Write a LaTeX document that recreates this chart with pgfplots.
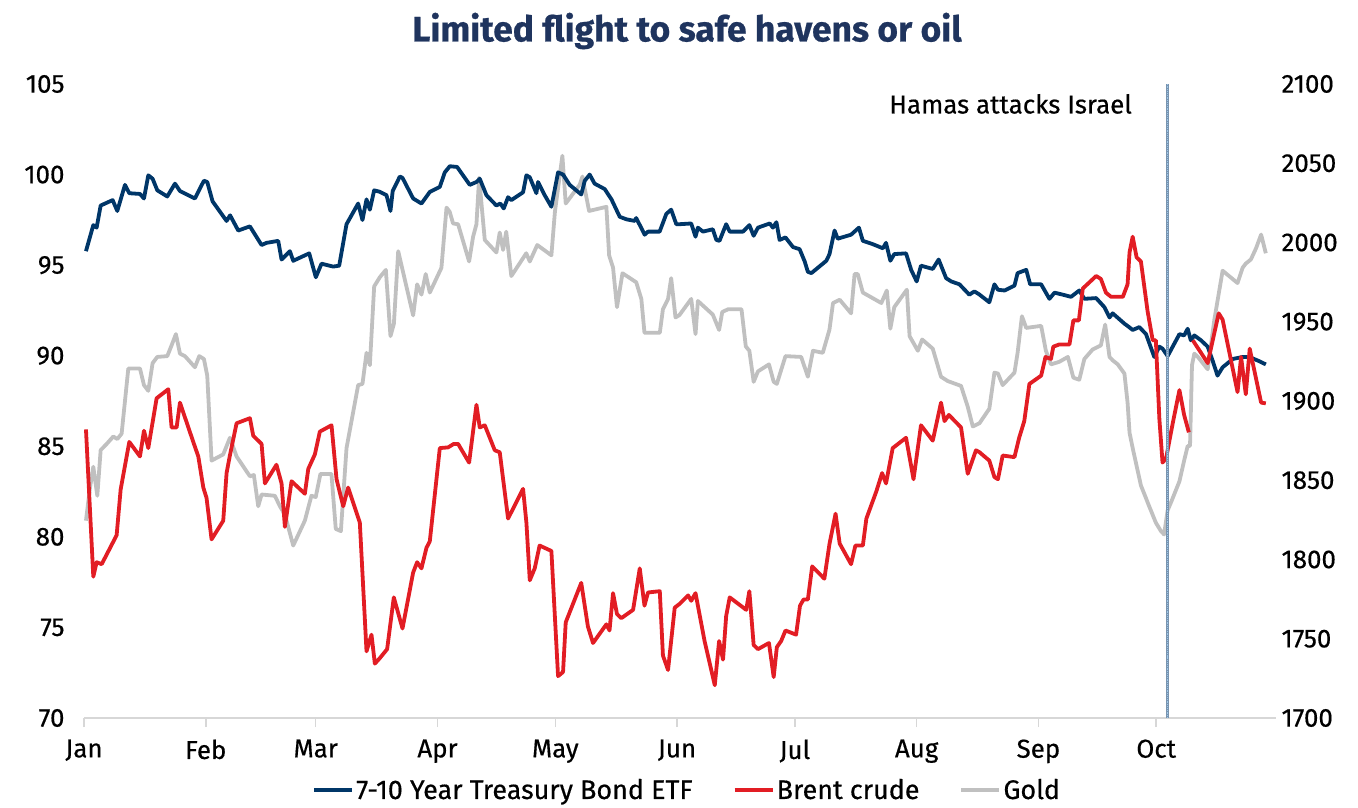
\documentclass[border=0pt]{standalone}
\usepackage{pgfplots}
\pgfplotsset{compat=1.18}
\usepackage{pgfplotstable}
\usepackage{fontspec}
\setmainfont{Fira Sans}[FakeBold=0.6]
\newfontfamily\medfont{Fira Sans}[FakeBold=0.5]
\definecolor{navy}{RGB}{0,54,104}
\definecolor{brent}{RGB}{226,29,36}
\definecolor{goldc}{RGB}{192,192,192}
\definecolor{titlec}{RGB}{31,52,94}
\definecolor{vline}{RGB}{120,148,176}
\definecolor{vdot}{RGB}{160,200,232}
\definecolor{axgray}{RGB}{215,215,215}

\pgfplotstableread{
day val
0.5 95.77
2.37 97.21
3.22 97.07
4.24 98.29
7.29 98.59
8.48 97.99
10.43 99.43
11.53 98.97
14.25 98.93
15.27 98.68
16.37 99.96
17.47 99.77
18.66 99.13
21.2 98.79
23.16 99.5
24.43 99.09
28.24 98.68
30.53 99.66
31.38 99.59
32.74 98.52
36.3 97.44
37.2 97.75
39.27 96.91
42.24 97.14
45.21 96.11
46.48 96.23
49.45 96.34
50.3 95.31
52.42 95.77
53.27 95.24
57.34 95.65
59.03 94.33
60.47 95.08
63.44 94.92
64.97 94.97
66.84 97.26
69.8 98.4
70.9 97.49
71.93 98.63
72.78 98.06
73.88 99.13
75.3 99.05
77.02 98.86
78.03 97.99
78.6 99.09
80.41 99.89
81.09 99.82
83.8 98.68
85.92 98.4
88.04 99.04
90.59 99.32
91.86 100.12
93.13 100.46
95.0 100.42
98.22 99.43
99.92 99.59
100.76 99.77
102.46 98.86
105.0 98.29
106.0 98.4
106.87 98.13
107.97 98.75
108.8 98.59
111.79 99.02
112.64 99.96
113.5 99.85
115.18 98.97
115.6 99.59
117.3 98.86
119.0 98.22
120.7 100.12
121.97 100.0
123.66 99.43
126.6 98.9
127.5 99.66
128.75 100.0
130.0 99.5
132.57 99.2
134.3 98.63
136.4 97.67
138.1 97.53
140.2 97.44
140.6 97.6
142.75 96.68
143.6 96.85
146.56 96.85
148.26 97.83
149.5 98.06
150.8 97.26
151.7 97.26
154.6 97.3
155.7 96.57
156.3 97.07
157.6 96.85
160.1 96.98
161.0 96.39
161.8 96.34
163.5 97.26
164.4 96.85
167.8 96.85
169.4 97.21
170.5 96.62
171.6 97.07
174.6 97.3
175.4 97.07
176.3 97.37
177.1 96.39
178.6 96.53
180.5 96.0
182.2 95.88
183.5 95.2
184.3 94.63
185.2 94.56
189.0 95.24
189.8 95.6
191.1 96.91
191.9 96.46
195.3 96.68
197.3 97.07
198.3 96.34
200.8 96.16
203.4 95.93
204.2 96.23
205.3 95.24
206.3 95.61
209.3 95.65
210.6 94.74
212.0 94.1
213.1 94.97
216.1 94.79
217.6 95.31
219.5 94.28
220.8 94.1
222.9 93.94
225.4 93.37
226.7 93.55
227.9 93.39
230.5 92.95
231.8 93.94
232.7 93.64
234.4 93.6
236.9 93.87
237.7 94.56
239.9 94.74
240.9 93.94
243.7 93.94
245.8 93.14
247.1 93.48
249.2 93.37
251.3 93.25
253.4 93.6
254.7 93.14
257.7 93.18
259.8 92.68
261.1 92.11
261.9 92.34
264.9 91.77
266.2 91.56
267.0 91.42
268.7 91.58
270.4 91.19
272.5 89.93
273.8 90.5
274.6 90.39
275.9 89.98
278.9 91.19
280.1 91.12
281.0 91.49
281.8 90.85
282.7 91.12
284.4 90.85
286.1 90.5
287.4 89.7
288.6 88.9
289.9 89.36
292.5 89.82
295.0 89.93
296.7 89.93
299.2 89.7
300.9 89.52
}\treas

\pgfplotstableread{
day val
0.5 85.93
2.37 77.8
3.22 78.6
4.5 78.49
8.31 80.09
9.33 82.61
11.53 85.24
14.25 84.44
15.27 85.86
16.37 84.9
18.49 87.65
21.46 88.15
22.3 86.04
23.58 86.04
24.43 87.41
27.82 85.24
29.1 84.44
30.38 82.72
31.2 82.15
32.48 79.86
35.45 80.89
36.3 83.52
37.15 84.5
38.85 86.27
42.24 86.55
43.09 85.58
45.21 85.13
46.06 82.95
49.0 83.98
50.3 82.95
51.15 80.55
52.84 83.07
56.23 82.38
57.1 83.75
58.78 84.55
60.05 85.81
63.02 86.16
64.3 83.18
66.0 81.69
67.25 82.72
70.23 80.78
71.93 73.68
73.2 74.6
74.05 73.0
75.3 73.3
77.18 73.8
78.88 76.66
81.09 74.94
83.8 78.03
84.82 78.6
85.92 78.26
87.2 79.4
88.04 79.75
90.59 84.9
92.7 84.94
94.15 85.13
95.25 85.13
98.05 84.1
99.92 87.29
100.76 86.04
102.04 86.16
104.58 84.78
105.85 84.67
107.97 81.01
111.79 82.65
112.64 80.78
113.5 77.6
114.76 78.26
116.0 79.52
119.0 79.22
120.7 72.31
121.97 72.54
122.65 75.28
126.6 77.46
128.3 75.05
129.6 74.14
133.0 75.17
133.8 74.83
134.7 76.89
135.7 75.74
136.8 75.51
139.8 75.97
141.5 78.26
142.7 76.2
143.6 76.93
146.6 77.0
147.4 73.45
148.7 72.65
150.4 76.09
151.7 76.31
153.8 76.77
154.6 76.47
155.7 76.89
158.0 74.25
160.6 71.81
161.7 74.25
162.7 73.22
163.5 75.63
164.4 76.66
168.6 75.97
169.4 77.0
170.5 74.03
171.6 73.8
174.4 74.14
175.6 72.26
176.4 73.91
177.5 74.25
178.6 74.83
181.3 74.6
182.3 76.2
183.2 76.54
184.3 76.54
185.4 78.37
188.5 77.69
189.8 79.6
191.35 81.28
192.4 79.63
195.3 78.49
196.4 79.52
198.3 79.52
199.2 81.01
201.7 82.49
203.2 83.52
204.2 82.95
205.9 84.9
209.3 85.47
211.2 83.18
213.1 86.16
216.1 85.31
218.2 87.41
219.1 86.39
220.2 86.73
223.3 86.04
225.0 83.48
227.1 84.78
228.0 84.67
230.5 84.21
231.8 83.3
232.7 83.18
233.9 84.49
236.9 84.4
238.1 85.47
239.4 86.39
240.7 88.44
243.7 88.9
244.8 89.93
246.2 89.82
246.8 90.5
248.3 90.62
250.9 90.62
251.9 91.95
253.3 91.95
254.3 93.71
257.7 94.4
258.9 94.24
260.2 93.48
261.5 93.25
264.5 93.25
265.7 93.94
266.2 95.7
267.0 96.57
268.0 95.43
269.1 95.2
270.8 92.45
272.1 90.85
272.9 90.85
273.8 86.5
274.6 84.1
275.5 84.33
277.2 86.27
278.9 88.1
280.1 86.73
281.3 85.77
281.8 nan
282.3 90.85
284.4 90.16
286.1 89.59
288.9 92.34
289.9 91.99
293.7 87.99
294.6 89.93
295.8 87.87
296.8 90.39
299.7 87.41
300.9 87.37
}\brent

\pgfplotstableread{
day val
0.5 1824.5
1.53 1845.4
2.37 1858.5
3.39 1840.2
4.24 1869.0
5.77 1872.9
7.46 1877.6
8.48 1876.0
9.58 1879.4
11.28 1920.5
14.25 1920.5
15.27 1910.0
16.37 1906.4
17.47 1923.9
18.66 1927.8
21.2 1928.3
22.3 1935.1
23.4 1942.2
24.43 1929.9
25.7 1928.3
28.24 1921.3
29.34 1928.3
30.53 1926.5
31.38 1916.0
32.48 1862.4
35.45 1866.3
37.15 1876.8
38.85 1865.0
42.24 1852.5
43.25 1853.3
44.36 1833.6
45.21 1841.0
48.6 1840.2
49.87 1833.6
51.15 1828.4
53.27 1808.8
56.23 1824.5
57.9 1840.2
59.0 1839.4
60.2 1854.0
63.0 1854.0
64.1 1819.3
65.4 1817.9
66.84 1870.3
69.8 1910.0
70.9 1910.8
71.93 1930.4
72.78 1922.6
73.88 1972.3
75.3 1978
76.85 1982.7
78.03 1940.9
78.9 1948.7
80.0 1994.5
83.8 1954.0
84.82 1973.6
85.92 1967.1
87.0 1980.1
88.04 1968.4
91.0 1984.0
92.3 2022.0
93.1 2019.4
93.97 2012.0
95.25 2011.5
98.05 1988.0
99.07 2003.7
99.92 2011.5
100.6 2040.8
102.04 2001.6
105.0 1993.7
105.85 2006.3
106.7 1995.3
107.5 2006.8
108.8 1978.8
112.6 1993.2
113.5 1988
115.4 1998.4
119.0 1991.9
119.9 2019.4
121.8 2054.7
122.65 2024.6
126.2 2036.4
126.9 2041.6
127.5 2033.8
128.6 2019.9
133.0 2022.5
133.7 1991.9
134.7 1984.1
135.7 1959.2
137.1 1980.6
140.6 1974.9
141.9 1964.4
142.7 1943.0
146.6 1943.0
147.4 1957.9
148.7 1964.4
149.5 1977.5
150.6 1952.7
151.6 1954.2
154.6 1964.4
155.7 1942.2
156.3 1963.1
160.1 1954.5
161.7 1944.8
162.5 1956.1
164.0 1957.9
167.4 1957.9
168.5 1934.4
169.4 1931.7
170.5 1912.1
171.6 1918.7
174.4 1923.1
175.6 1912.1
176.4 1910.8
178.6 1928.3
182.6 1927.8
184.3 1915.3
185.6 1931.7
188.1 1930.4
189.8 1945
190.7 1961.8
192.4 1963.9
195.3 1955.3
196.2 1980.1
197.0 1980.1
198.3 1968.4
203.0 1961.8
204.4 1969.7
205.3 1945.6
206.3 1959.2
209.5 1970.2
210.2 1940.9
212.3 1931.7
213.4 1938.8
216.1 1933.0
218.2 1915.3
219.9 1912.6
223.3 1909.5
225.0 1896.4
226.3 1883.9
228.0 1886.0
230.5 1895.1
231.8 1917.9
232.7 1917.3
233.9 1910.0
236.9 1917.9
237.7 1930.4
238.8 1953.5
239.9 1946.1
243.7 1947.4
244.9 1931.7
246.2 1923.1
248.3 1924.7
250.5 1927.8
251.9 1914.7
253.4 1913.4
254.7 1926.5
256.8 1932.5
258.9 1935.1
260.0 1948.2
261.1 1927.8
261.9 1925.7
263.2 1923.1
264.9 1917.3
265.7 1899.0
266.2 1880
267.0 1870.3
269.1 1846.7
271.2 1833.6
272.9 1823.2
274.2 1817.9
275.0 1815.8
275.9 1831.0
276.8 1836.3
278.9 1849.3
280.1 1862.4
281.0 1871.6
281.6 1871.6
282.1 1922.6
282.7 1929.9
283.6 1927.8
286.1 1920.0
287.8 1951.4
289.9 1982.2
293.7 1974.4
295.0 1984.1
295.8 1986.7
297.1 1989.3
298.4 1996.3
299.7 2005.0
300.9 1993.2
}\gold

\begin{document}
\begin{tikzpicture}[x=1bp,y=1bp]
\useasboundingbox (0,0) rectangle (1358,807);
\node[font=\bfseries\fontsize{35.5}{40}\selectfont, text=titlec] at (687,776) {Limited flight to safe havens or oil};

\begin{axis}[
  at={(84bp,89bp)}, anchor=south west,
  width=1192bp, height=634bp, scale only axis,
  xmin=0, xmax=303.5, ymin=1700, ymax=2100,
  axis x line=none,
  axis y line*=right,
  y axis line style={draw=none},
  ytick={1700,1750,...,2100},
  ytick style={draw=none},
  yticklabel style={font=\medfont\fontsize{26}{26}\selectfont, black, xshift=2bp},
  /pgf/number format/assume math mode=true,
  /pgf/number format/1000 sep={},
]
\addplot[goldc, line width=3.8bp, line join=round] table[x=day,y=val] {\gold};
\end{axis}

\begin{axis}[
  at={(84bp,89bp)}, anchor=south west,
  width=1192bp, height=634bp, scale only axis,
  xmin=0, xmax=303.5, ymin=70, ymax=105,
  axis x line*=bottom,
  axis y line*=left,
  y axis line style={draw=none},
  x axis line style={axgray, line width=1.5bp},
  xtick={0,31,59,90,120,151,181,212,243,273},
  xticklabels={Jan,Feb,Mar,Apr,May,Jun,Jul,Aug,Sep,Oct},
  xtick align=outside,
  major tick length=9bp,
  xtick style={axgray, line width=1.5bp},
  ytick={70,75,...,105},
  ytick style={draw=none},
  yticklabel style={font=\medfont\fontsize{26}{26}\selectfont, black, xshift=-16bp},
  xticklabel style={font=\medfont\fontsize{26}{26}\selectfont, black, yshift=-9bp},
  /pgf/number format/assume math mode=true,
  unbounded coords=jump,
  clip=false,
  legend columns=-1,
  legend style={draw=none, fill=none, font=\medfont\fontsize{27}{27}\selectfont,
    at={(0.506,-0.113)}, anchor=center, inner sep=1bp,
    /tikz/every even column/.append style={column sep=38bp}},
  legend image code/.code={\draw[#1, line width=4bp] (0bp,0bp) -- (38bp,0bp);},
]
\addplot[navy, line width=3.8bp, line join=round] table[x=day,y=val] {\treas};
\addlegendentry{7-10 Year Treasury Bond ETF}
\addplot[brent, line width=3.8bp, line join=round] table[x=day,y=val] {\brent};
\addlegendentry{Brent crude}
\addlegendimage{goldc, line width=4bp}
\addlegendentry{Gold}
\addplot[forget plot, vline, line width=3bp] coordinates {(275.9,70) (275.9,105)};
\addplot[forget plot, vdot, line width=1.2bp, densely dotted] coordinates {(275.9,70) (275.9,105)};
\node[anchor=east, font=\medfont\fontsize{26}{26}\selectfont] at (axis cs:267.7,103.9) {Hamas attacks Israel};
\end{axis}
\end{tikzpicture}
\end{document}
